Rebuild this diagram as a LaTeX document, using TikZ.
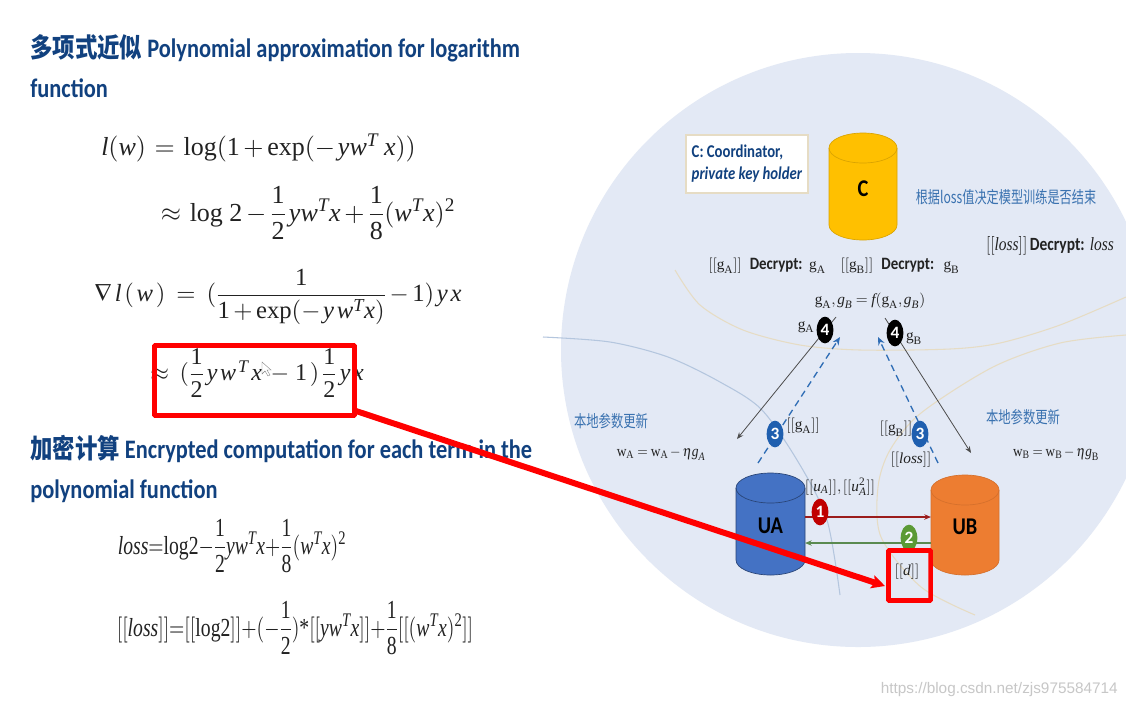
\documentclass[tikz,border=0pt]{standalone}
\usepackage{amsmath}
\usepackage{graphicx}
\usepackage{mathptmx}
\usepackage{fontspec}
\setmainfont{Liberation Serif}
\newfontfamily\calib{Carlito}
\newfontfamily\cjk{Noto Sans CJK SC}
\usetikzlibrary{arrows.meta,shapes.geometric}
\definecolor{bgblue}{HTML}{E3E9F5}
\definecolor{titleblue}{HTML}{11417F}
\definecolor{noteblue}{HTML}{3A72B0}
\definecolor{dashblue}{HTML}{2F6DB5}
\definecolor{badgeblue}{HTML}{1F5FAF}
\definecolor{badgered}{HTML}{C00000}
\definecolor{badgegreen}{HTML}{5B9A35}
\definecolor{lineRed}{HTML}{9B1C1C}
\definecolor{lineGreen}{HTML}{5A8A50}
\definecolor{tanline}{HTML}{E6DCC4}
\definecolor{arcblue}{HTML}{B4C6DE}
\definecolor{hlred}{HTML}{FF0000}
\definecolor{eqgray}{HTML}{222222}
\definecolor{cyC}{HTML}{FFC000}
\definecolor{cyUA}{HTML}{4472C4}
\definecolor{cyUB}{HTML}{ED7D31}
\newcommand{\sx}[2]{\scalebox{#1}[1]{#2}}
\newcommand{\mi}[1]{\textit{#1}}
\newcommand{\rmt}[1]{\textnormal{#1}}
\newcommand{\gsub}[1]{\rmt{g}_{\rmt{#1}}}
\newcommand{\wsub}[1]{\rmt{w}_{\rmt{#1}}}
\newcommand{\fr}[2]{\dfrac{\rmt{#1}}{\rmt{#2}}}
\newcommand{\decr}{{\calib\bfseries\fontsize{13}{14}\selectfont\sx{.86}{Decrypt:}}}
\tikzset{
  titletext/.style={anchor=base west,inner sep=0,text=titleblue,font=\calib\bfseries\fontsize{20}{22}\selectfont},
  eqn/.style={anchor=center,inner sep=0,text=eqgray,font=\fontsize{19.5}{22}\selectfont},
  small/.style={anchor=center,inner sep=0,text=eqgray,font=\fontsize{11.5}{14}\selectfont},
  note/.style={anchor=center,inner sep=0,text=noteblue,font=\cjk\fontsize{12.5}{14}\selectfont},
  badge/.style={ellipse,minimum width=12.5,minimum height=20,inner sep=0,text=white,font=\calib\bfseries\fontsize{13}{14}\selectfont},
  flowarrow/.style={-{Stealth[length=5,width=4]},line width=.6pt},
  dasharrow/.style={-{Stealth[length=6,width=5]},dashblue,line width=1pt,dash pattern=on 5pt off 3.5pt},
  hlbox/.style={draw=hlred,line width=3.4pt,rounded corners=.5pt},
}
\newcommand{\cyl}[8]{%
  \fill[#6] (#2,#4+15) -- (#2,#5-15) arc[start angle=180,end angle=0,x radius={(#3-#2)/2},y radius=15] -- (#3,#4+15) arc[start angle=0,end angle=-180,x radius={(#3-#2)/2},y radius=15] -- cycle;
  \draw[#7,line width=.5pt] (#2,#4+15) arc[start angle=180,end angle=-180,x radius={(#3-#2)/2},y radius=15];
  \draw[#7,line width=.5pt] (#2,#4+15) -- (#2,#5-15) arc[start angle=180,end angle=0,x radius={(#3-#2)/2},y radius=15] -- (#3,#4+15);
  \node[inner sep=0,font=\calib\bfseries\fontsize{18}{18}\selectfont] (#1) at ({(#2+#3)/2},{(#4+#5)/2+2}) {\sx{.85}{#8}};
}
\begin{document}
\begin{tikzpicture}[x=.75pt,y=-.75pt]
\useasboundingbox (0,0) rectangle (1126,708);
\fill[white] (0,0) rectangle (1126,708);
% background disc
\begin{scope}
\clip (0,0) rectangle (1126,708);
\fill[bgblue] (858,350) ellipse[x radius=297,y radius=297];
\end{scope}
% thin arcs
\draw[tanline,line width=.8pt] plot[smooth] coordinates {(675,270) (700,305) (743,330) (800,345) (860,350) (950,349) (1000,343) (1060,325) (1126,297)};
\draw[arcblue,line width=.8pt] plot[smooth] coordinates {(543,337) (610,342) (668,357) (720,382) (762,410) (800,465) (827,520) (840,595)};
\draw[tanline,line width=.8pt] plot[smooth] coordinates {(1126,335) (1060,343) (993,367) (921,413) (890,450) (878,487) (881,537) (921,587) (975,615)};
% left column
\node[titletext] (t1) at (30,57) {\sx{.84}{{\cjk\bfseries\fontsize{20}{22}\selectfont 多项式近似} Polynomial approximation for logarithm}};
\node[titletext] (t2) at (30,97) {\sx{.84}{function}};
\node[eqn] (e1) at (258.5,148) {$\mi{l}(\mi{w})\,=\,\rmt{log}(\rmt{1}+\rmt{exp}(-\,\mi{yw}^{\mi{T}}\;\mi{x}))$};
\node[eqn] (e2) at (308,213) {$\approx\,\rmt{log 2}-\fr{1}{2}\,\mi{yw}^{\mi{T}}\mi{x}+\fr{1}{8}(\mi{w}^{\mi{T}}\mi{x})^{\rmt{2}}$};
\node[eqn,font=\fontsize{18.5}{22}\selectfont] (e3) at (278,297) {$\nabla\,\mi{l}\,(\,\mi{w}\,)\;=\;(\dfrac{\rmt{1}}{\rmt{1}+\rmt{exp}(-\,\mi{y}\,\mi{w}^{\mi{T}}\mi{x})}-\rmt{1})\,\mi{y}\,\mi{x}$};
\node[eqn,font=\fontsize{18}{22}\selectfont] (e4) at (257,373) {$\approx\;(\fr{1}{2}\,\mi{y}\,\mi{w}^{\,\mi{T}}\,\mi{x}\;-\,\rmt{1}\,)\,\fr{1}{2}\,\mi{y}\,\mi{x}$};
\fill[white,draw=gray,line width=.3pt] (262,362) -- (262,374) -- (265,371) -- (268,376) -- (270,375) -- (267,370) -- (271,370) -- cycle;
\node[titletext] (t3) at (30,458) {\sx{.84}{{\cjk\bfseries\fontsize{20}{22}\selectfont 加密计算} Encrypted computation for each term in the}};
\node[titletext] (t4) at (30,498) {\sx{.84}{polynomial function}};
\node[eqn] (e5) at (232,546) {\sx{.755}{$\mi{loss}{=}\rmt{log2}{-}\fr{1}{2}\mi{yw}^{\mi{T}}\mi{x}{+}\fr{1}{8}(\mi{w}^{\mi{T}}\mi{x})^{\rmt{2}}$}};
\node[eqn] (e6) at (295,628) {\sx{.757}{$[[\mi{loss}]]{=}[[\rmt{log2}]]{+}({-}\fr{1}{2})\rmt{*}[[\mi{yw}^{\mi{T}}\mi{x}]]{+}\fr{1}{8}[[(\mi{w}^{\mi{T}}\mi{x})^{\rmt{2}}]]$}};
% right column
\node[draw=tanline,line width=1.2pt,fill=white,minimum width=91.5,minimum height=43.5,inner sep=0,text=titleblue,font=\calib\bfseries\fontsize{13.5}{17}\selectfont] (lbl) at (747,164) {\sx{.82}{\begin{tabular}{@{}l@{}}C: Coordinator,\\\textit{private key holder}\end{tabular}}};
\cyl{C}{829}{897}{133}{240}{cyC}{cyC!85!black}{C}
\node[note] (n1) at (1006,197) {\sx{.73}{根据loss值决定模型训练是否结束}};
\node[small,font=\fontsize{14}{16}\selectfont] (lossdec) at (1050,246) {\sx{.83}{$[[\mi{loss}]]$\,{\calib\bfseries\fontsize{14}{14}\selectfont Decrypt:} $\mi{loss}$}};
\node[small] (dA) at (767,266) {$[[\gsub{A}]]$\hspace{6pt}\decr\hspace{5pt}$\gsub{A}$};
\node[small] (dB) at (900,266) {$[[\gsub{B}]]$\hspace{6pt}\decr\hspace{7pt}$\gsub{B}$};
\node[small] (gg) at (870,301) {$\gsub{A},\mi{g}_{\mi{B}}=\mi{f}(\gsub{A},\mi{g}_{\mi{B}})$};
% step 4
\coordinate (aS) at (836,317);
\coordinate (aE) at (737,439);
\coordinate (bS) at (885,318);
\coordinate (bE) at (971,453);
\draw[flowarrow,black!70] (aS) -- (aE);
\draw[flowarrow,black!70] (bS) -- (bE);
\node[badge,fill=black] (four1) at (825,330) {4};
\node[badge,fill=black] (four2) at (895,333) {4};
\node[small] (gA) at (806,327) {$\gsub{A}$};
\node[small] (gB) at (914,339) {$\gsub{B}$};
% step 3
\coordinate (cS) at (758,463);
\coordinate (cE) at (840,337);
\coordinate (dS) at (938,463);
\coordinate (dE) at (878,337);
\draw[dasharrow] (cS) -- (cE);
\draw[dasharrow] (dS) -- (dE);
\node[badge,fill=badgeblue] (three1) at (775,434) {3};
\node[badge,fill=badgeblue] (three2) at (920,434) {3};
\node[small] (sgA) at (803,426) {$[[\gsub{A}]]$};
\node[small] (sgB) at (896,429) {$[[\gsub{B}]]$};
\node[small] (sl) at (911,460) {$[[\mi{loss}]]$};
% local update
\node[note] (n2) at (611,421) {\sx{.74}{本地参数更新}};
\node[note] (n3) at (1023,417) {\sx{.74}{本地参数更新}};
\node[small] (wA) at (661,454) {\sx{.88}{$\wsub{A}=\wsub{A}-\eta \mi{g}_{\mi{A}}$}};
\node[small] (wB) at (1056,454) {\sx{.86}{$\wsub{B}=\wsub{B}-\eta \mi{g}_{\rmt{B}}$}};
% cylinders
\cyl{UA}{736}{805}{473}{575}{cyUA}{cyUA!60!black}{UA}
\cyl{UB}{931}{999}{475}{575}{cyUB}{cyUB!90!black}{UB}
\node[small] (uu) at (840,487) {$[[\mi{u}_{\mi{A}}]],[[\mi{u}_{\mi{A}}^{\rmt{2}}]]$};
% step 1, 2
\coordinate (s1a) at (805,517);
\coordinate (s1b) at (931,517);
\coordinate (s2a) at (931,543);
\coordinate (s2b) at (805,543);
\draw[flowarrow,draw=lineRed,line width=.9pt] (s1a) -- (s1b);
\draw[flowarrow,draw=lineGreen,line width=.9pt] (s2a) -- (s2b);
\node[badge,fill=badgered] (one) at (820,512) {1};
\node[badge,fill=badgegreen] (two) at (909,538) {2};
\node[small] (dd) at (907,572) {$[[\mi{d}]]$};
% highlight
\node[hlbox,minimum width=150,minimum height=52.5,inner sep=0] (box1) at (254.5,380.5) {};
\node[hlbox,minimum width=31.5,minimum height=37.5,inner sep=0] (box2) at (909.5,575.5) {};
\coordinate (hS) at (356,411);
\coordinate (hE) at (885,586);
\draw[hlred,line width=4.5pt,-{Stealth[length=10,width=10,inset=2]}] (hS) -- (hE);
% watermark
\node[anchor=east,inner sep=0,text=black!22,font=\fontsize{11.5}{12}\selectfont\fontspec{Liberation Sans}] (wm) at (1118,690) {https://blog.csdn.net/zjs975584714};
\end{tikzpicture}
\end{document}
